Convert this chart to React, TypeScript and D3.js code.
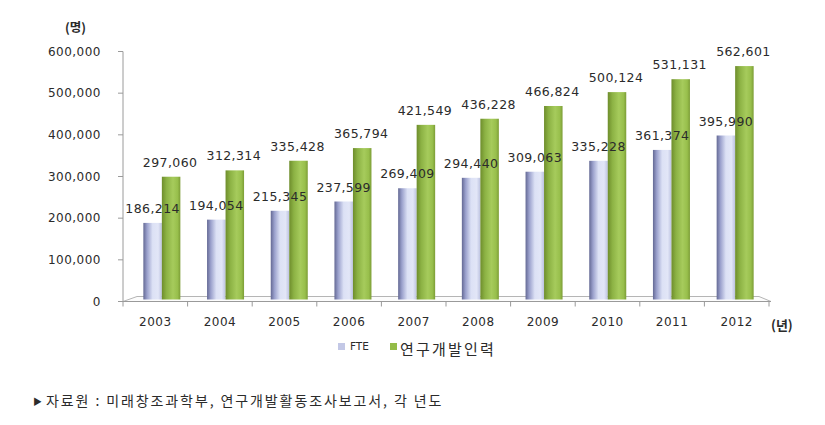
import React from "react";
import * as d3 from "d3";

const years = ["2003", "2004", "2005", "2006", "2007", "2008", "2009", "2010", "2011", "2012"];
const fte = [186214, 194054, 215345, 237599, 269409, 294440, 309063, 335228, 361374, 395990];
const rnd = [297060, 312314, 335428, 365794, 421549, 436228, 466824, 500124, 531131, 562601];
const yTicks = [0, 100000, 200000, 300000, 400000, 500000, 600000];
const seriesNames = ["FTE", "연구개발인력"];
const sourceText = "자료원 : 미래창조과학부, 연구개발활동조사보고서, 각 년도";

const W = 825, H = 425;
const axisX = 123;
const axisRight = 769;
const y0 = 301.5;
const yTop = 51.5;

export default function App() {
  const y = d3.scaleLinear().domain([0, 600000]).range([y0, yTop]);
  const xCat = d3.scaleBand<string>().domain(years).range([axisX, axisRight]);
  const xBar = d3.scaleBand<string>().domain(years).range([130, 767]);
  const barW = 18.5;
  const fmt = d3.format(",");
  const numFont = "'DejaVu Sans', sans-serif";
  const krFont = "'Noto Sans CJK KR', sans-serif";
  const textColor = "#2b2b2b";

  return (
    <svg width={W} height={H} style={{ position: "absolute", left: 0, top: 0, background: "#fff" }}>
      <defs>
        <linearGradient id="gF" x1="0" x2="1" y1="0" y2="0">
          <stop offset="0%" stopColor="#646994" />
          <stop offset="20%" stopColor="#9aa0cc" />
          <stop offset="50%" stopColor="#dce1f5" />
          <stop offset="80%" stopColor="#e2e6f7" />
          <stop offset="100%" stopColor="#bcc2e0" />
        </linearGradient>
        <linearGradient id="gG" x1="0" x2="1" y1="0" y2="0">
          <stop offset="0%" stopColor="#6e8d2c" />
          <stop offset="25%" stopColor="#8cb244" />
          <stop offset="60%" stopColor="#a6cb5c" />
          <stop offset="85%" stopColor="#98bf4c" />
          <stop offset="100%" stopColor="#7c9d36" />
        </linearGradient>
      </defs>

      {/* 3D floor */}
      <path
        d={`M${axisX},${y0} L${axisX + 14},${y0 - 5} L${axisRight - 10},${y0 - 5} L${axisRight + 2},${y0} Z`}
        fill="#fcfcfc"
        stroke="#b5b5b5"
        strokeWidth={1}
      />
      {/* y axis */}
      <line x1={axisX} x2={axisX} y1={yTop} y2={y0} stroke="#9a9a9a" strokeWidth={1} />
      {yTicks.map((t) => (
        <g key={t}>
          <line x1={axisX - 5} x2={axisX} y1={y(t)} y2={y(t)} stroke="#9a9a9a" />
          <text
            x={101}
            y={y(t)}
            dy="0.35em"
            textAnchor="end"
            fontFamily={numFont}
            fontSize={12}
            letterSpacing={0.5}
            fill={textColor}
          >
            {fmt(t)}
          </text>
        </g>
      ))}
      {/* x axis */}
      <line x1={axisX} x2={axisRight + 2} y1={y0} y2={y0} stroke="#9a9a9a" />
      {years.map((yr) => (
        <line
          key={"t" + yr}
          x1={xCat(yr)! + xCat.bandwidth()}
          x2={xCat(yr)! + xCat.bandwidth()}
          y1={y0}
          y2={y0 + 5}
          stroke="#9a9a9a"
        />
      ))}
      <line x1={axisX} x2={axisX} y1={y0} y2={y0 + 5} stroke="#9a9a9a" />
      {years.map((yr) => (
        <text
          key={"l" + yr}
          x={xCat(yr)! + xCat.bandwidth() / 2}
          y={326}
          textAnchor="middle"
          fontFamily={numFont}
          fontSize={12}
          letterSpacing={0.5}
          fill={textColor}
        >
          {yr}
        </text>
      ))}

      {/* bars */}
      {years.map((yr, i) => {
        const c = xBar(yr)! + xBar.bandwidth() / 2;
        const xf = c - barW;
        const xg = c;
        const base = y0 - 2;
        const tf = y(fte[i]) - 1;
        const tg = y(rnd[i]) - 1;
        return (
          <g key={"b" + yr}>
            <rect x={xf} y={tf} width={barW} height={base - tf} fill="url(#gF)" />
            <rect x={xg} y={tg} width={barW} height={base - tg} fill="url(#gG)" />
            <text
              x={xf + barW / 2}
              y={tf - 10}
              textAnchor="middle"
              fontFamily={numFont}
              fontSize={12.5}
              letterSpacing={0.4}
              fill={textColor}
            >
              {fmt(fte[i])}
            </text>
            <text
              x={xg + barW / 2 - 1}
              y={tg - 10}
              textAnchor="middle"
              fontFamily={numFont}
              fontSize={12.5}
              letterSpacing={0.4}
              fill={textColor}
            >
              {fmt(rnd[i])}
            </text>
          </g>
        );
      })}

      {/* unit labels */}
      <text x={65} y={32} fontFamily={krFont} fontWeight="bold" fontSize={12.5} fill={textColor}>
        (명)
      </text>
      <text x={771} y={330} fontFamily={krFont} fontWeight="bold" fontSize={13} fill={textColor}>
        (년)
      </text>

      {/* legend */}
      <rect x={338} y={343} width={7} height={7} fill="#c3c8e6" />
      <text x={350} y={350} fontFamily={numFont} fontSize={10.5} fill={textColor}>
        {seriesNames[0]}
      </text>
      <rect x={390} y={343} width={7} height={7} fill="#94bc48" />
      <text x={400} y={355} fontFamily={krFont} fontSize={15} letterSpacing={2.2} fill={textColor}>
        {seriesNames[1]}
      </text>

      {/* source */}
      <text x={33} y={405} fontFamily={krFont} fontSize={9} fill={textColor}>
        ▶
      </text>
      <text x={46} y={406} fontFamily={krFont} fontSize={14} letterSpacing={1.9} fill={textColor}>
        {sourceText}
      </text>
    </svg>
  );
}
